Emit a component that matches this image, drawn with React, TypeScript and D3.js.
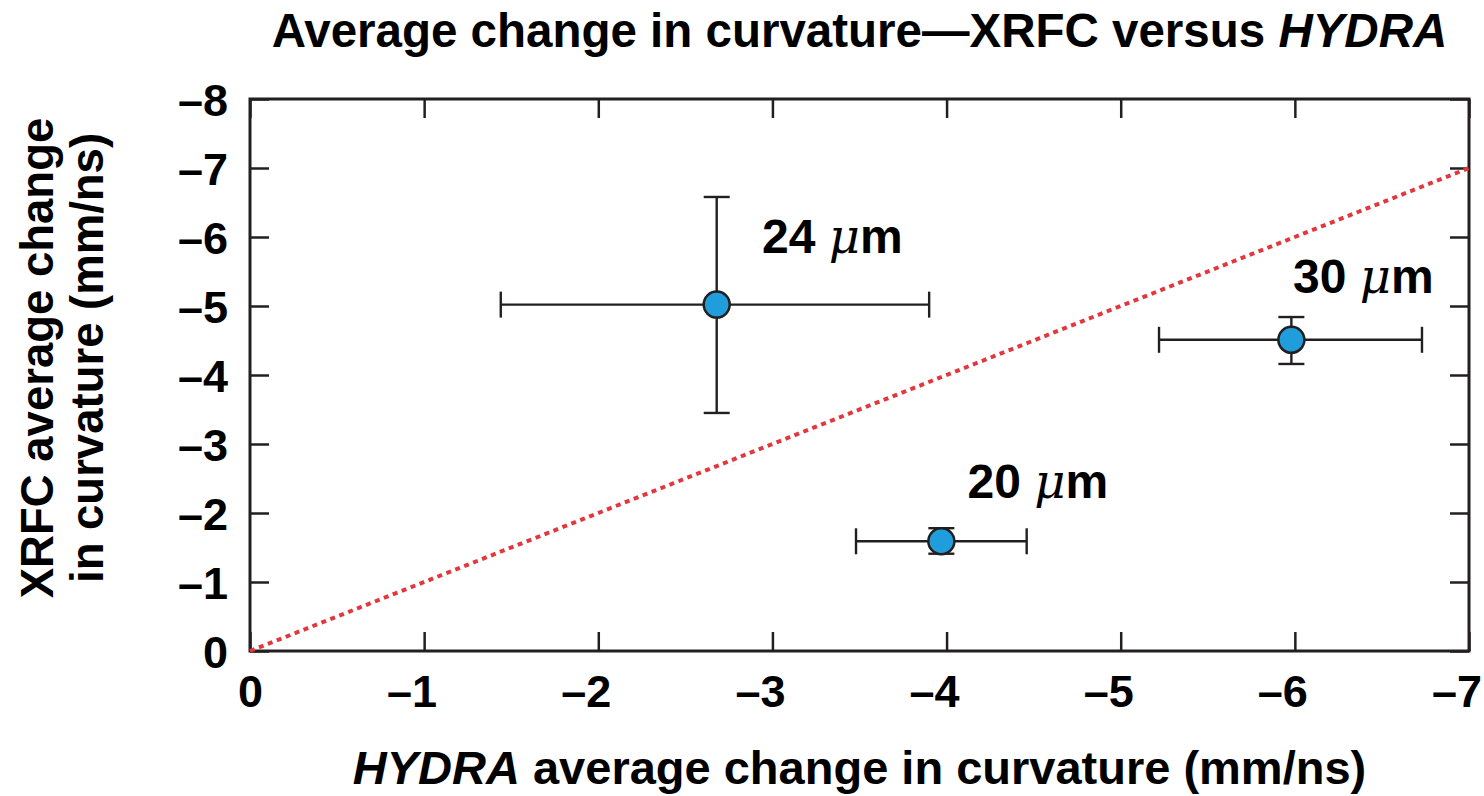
import React, { useEffect, useRef } from "react";
import * as d3 from "d3";

const WIDTH = 1484;
const HEIGHT = 796;
const MARGIN = { top: 99, right: 15, bottom: 145, left: 250 };
const INNER_WIDTH = WIDTH - MARGIN.left - MARGIN.right;
const INNER_HEIGHT = HEIGHT - MARGIN.top - MARGIN.bottom;
const X_DOMAIN = [0, -7];
const Y_DOMAIN = [0, -8];
const X_TICKS = [0, -1, -2, -3, -4, -5, -6, -7];
const Y_TICKS = [0, -1, -2, -3, -4, -5, -6, -7, -8];
const AXIS_COLOR = "#231f20";
const POINT_COLOR = "#1f9edb";
const LINE_COLOR = "#e2383d";
const FONT = "'Liberation Sans', Arial, Helvetica, sans-serif";

// measured points (HYDRA vs XRFC), with error ranges
const SIZES = ["24", "30", "20"];
const HYDRA = [-2.68, -5.98, -3.97];
const HYDRA_LO = [-1.44, -5.22, -3.48];
const HYDRA_HI = [-3.9, -6.73, -4.46];
const XRFC = [-5.02, -4.51, -1.59];
const XRFC_LO = [-3.45, -4.16, -1.41];
const XRFC_HI = [-6.58, -4.84, -1.78];
// label anchors (left/baseline) in data units
const LABEL_X = [-2.94, -5.99, -4.12];
const LABEL_Y = [-5.77, -5.19, -2.22];
// y = x reference line
const REF_LINE = [
  { x: 0, y: 0 },
  { x: -7, y: -7 },
];

const X_SCALE = d3.scaleLinear().domain(X_DOMAIN).range([0, INNER_WIDTH]);
const Y_SCALE = d3.scaleLinear().domain(Y_DOMAIN).range([INNER_HEIGHT, 0]);
const DEFAULT_LINE = d3
  .line<{ x: number; y: number }>()
  .x((d) => X_SCALE(d.x))
  .y((d) => Y_SCALE(d.y));
const TICK_LEN = 19;
const CAP = 13;
const RADIUS = 13;
const TICK_FONT = 45;

const fmt = (d: number) => (d === 0 ? "0" : "\u2013" + Math.abs(d));

export default function App() {
  const ref = useRef<SVGSVGElement>(null);

  useEffect(() => {
    document.body.style.margin = "0";
    const root = d3.select(ref.current);
    root.selectAll("*").remove();
    const svg = root
      .append("g")
      .attr("transform", "translate(" + MARGIN.left + "," + MARGIN.top + ")");

    // axes (ticks pointing inward)
    const bottom = svg
      .append("g")
      .attr("transform", "translate(0," + INNER_HEIGHT + ")")
      .call(
        d3.axisBottom(X_SCALE).tickValues(X_TICKS).tickSizeInner(-TICK_LEN).tickSizeOuter(0).tickPadding(24).tickFormat(fmt as any)
      );
    const left = svg
      .append("g")
      .call(
        d3.axisLeft(Y_SCALE).tickValues(Y_TICKS).tickSizeInner(-TICK_LEN).tickSizeOuter(0).tickPadding(22).tickFormat(fmt as any)
      );
    const top = svg
      .append("g")
      .call(d3.axisTop(X_SCALE).tickValues(X_TICKS).tickSizeInner(-TICK_LEN).tickSizeOuter(0).tickFormat("" as any));
    const right = svg
      .append("g")
      .attr("transform", "translate(" + INNER_WIDTH + ",0)")
      .call(d3.axisRight(Y_SCALE).tickValues(Y_TICKS).tickSizeInner(-TICK_LEN).tickSizeOuter(0).tickFormat("" as any));

    for (const ax of [bottom, left, top, right]) {
      ax.select(".domain").remove();
      ax.selectAll(".tick line").attr("stroke", AXIS_COLOR).attr("stroke-width", 2.5);
      ax.selectAll(".tick text")
        .attr("fill", "#000")
        .attr("font-family", FONT)
        .attr("font-weight", "bold")
        .attr("font-size", TICK_FONT + "px");
    }
    // digit sits on the tick, the dash hangs to the left
    bottom
      .selectAll(".tick text")
      .attr("dy", "0.71em")
      .attr("text-anchor", "end")
      .attr("x", TICK_FONT * 0.278);
    left.selectAll(".tick text").attr("dy", "0.36em");

    // frame
    svg
      .append("rect")
      .attr("width", INNER_WIDTH)
      .attr("height", INNER_HEIGHT)
      .attr("fill", "none")
      .attr("stroke", AXIS_COLOR)
      .attr("stroke-width", 3);

    // reference line
    svg
      .append("path")
      .attr("d", DEFAULT_LINE(REF_LINE))
      .attr("fill", "none")
      .attr("stroke", LINE_COLOR)
      .attr("stroke-width", 4)
      .attr("stroke-dasharray", "5,4.6");

    // error bars
    const bars = svg.append("g").attr("stroke", AXIS_COLOR).attr("stroke-width", 2.4);
    SIZES.forEach((_, i) => {
      const cx = X_SCALE(HYDRA[i]);
      const cy = Y_SCALE(XRFC[i]);
      const x0 = X_SCALE(HYDRA_LO[i]);
      const x1 = X_SCALE(HYDRA_HI[i]);
      const y0 = Y_SCALE(XRFC_LO[i]);
      const y1 = Y_SCALE(XRFC_HI[i]);
      bars.append("line").attr("x1", x0).attr("x2", x1).attr("y1", cy).attr("y2", cy);
      bars.append("line").attr("x1", x0).attr("x2", x0).attr("y1", cy - CAP).attr("y2", cy + CAP);
      bars.append("line").attr("x1", x1).attr("x2", x1).attr("y1", cy - CAP).attr("y2", cy + CAP);
      bars.append("line").attr("x1", cx).attr("x2", cx).attr("y1", y0).attr("y2", y1);
      bars.append("line").attr("x1", cx - CAP).attr("x2", cx + CAP).attr("y1", y0).attr("y2", y0);
      bars.append("line").attr("x1", cx - CAP).attr("x2", cx + CAP).attr("y1", y1).attr("y2", y1);
    });

    // points
    svg
      .append("g")
      .selectAll("circle")
      .data(SIZES)
      .join("circle")
      .attr("cx", (_, i) => X_SCALE(HYDRA[i]))
      .attr("cy", (_, i) => Y_SCALE(XRFC[i]))
      .attr("r", RADIUS)
      .attr("fill", POINT_COLOR)
      .attr("stroke", AXIS_COLOR)
      .attr("stroke-width", 2.5);

    // point labels
    const labels = svg
      .append("g")
      .selectAll("text")
      .data(SIZES)
      .join("text")
      .attr("x", (_, i) => X_SCALE(LABEL_X[i]))
      .attr("y", (_, i) => Y_SCALE(LABEL_Y[i]))
      .attr("font-family", FONT)
      .attr("font-weight", "bold")
      .attr("font-size", "48px");
    labels.append("tspan").text((d) => d + " ");
    labels.append("tspan").attr("font-style", "italic").attr("font-weight", "normal").attr("font-family", "'DejaVu Serif', serif").text("\u03bc");
    labels.append("tspan").text("m");

    // title
    const title = root
      .append("text")
      .attr("x", MARGIN.left + INNER_WIDTH / 2)
      .attr("y", 47)
      .attr("text-anchor", "middle")
      .attr("font-family", FONT)
      .attr("font-weight", "bold")
      .attr("font-size", "47.5px");
    title.append("tspan").text("Average change in curvature\u2014XRFC versus ");
    title.append("tspan").attr("font-style", "italic").text("HYDRA");

    // x label
    const xl = root
      .append("text")
      .attr("x", MARGIN.left + INNER_WIDTH / 2)
      .attr("y", 784)
      .attr("text-anchor", "middle")
      .attr("font-family", FONT)
      .attr("font-weight", "bold")
      .attr("font-size", "47px");
    xl.append("tspan").attr("font-style", "italic").text("HYDRA");
    xl.append("tspan").text(" average change in curvature (mm/ns)");

    // y label (two lines)
    const yl = root
      .append("text")
      .attr("transform", "translate(53,358) rotate(-90)")
      .attr("text-anchor", "middle")
      .attr("font-family", FONT)
      .attr("font-weight", "bold")
      .attr("font-size", "45.5px");
    yl.append("tspan").attr("x", 0).attr("dy", 0).text("XRFC average change");
    yl.append("tspan").attr("x", 0).attr("dy", 50).text("in curvature (mm/ns)");
  }, []);

  return <svg ref={ref} width={WIDTH} height={HEIGHT} style={{ display: "block", background: "#fff" }} />;
}
